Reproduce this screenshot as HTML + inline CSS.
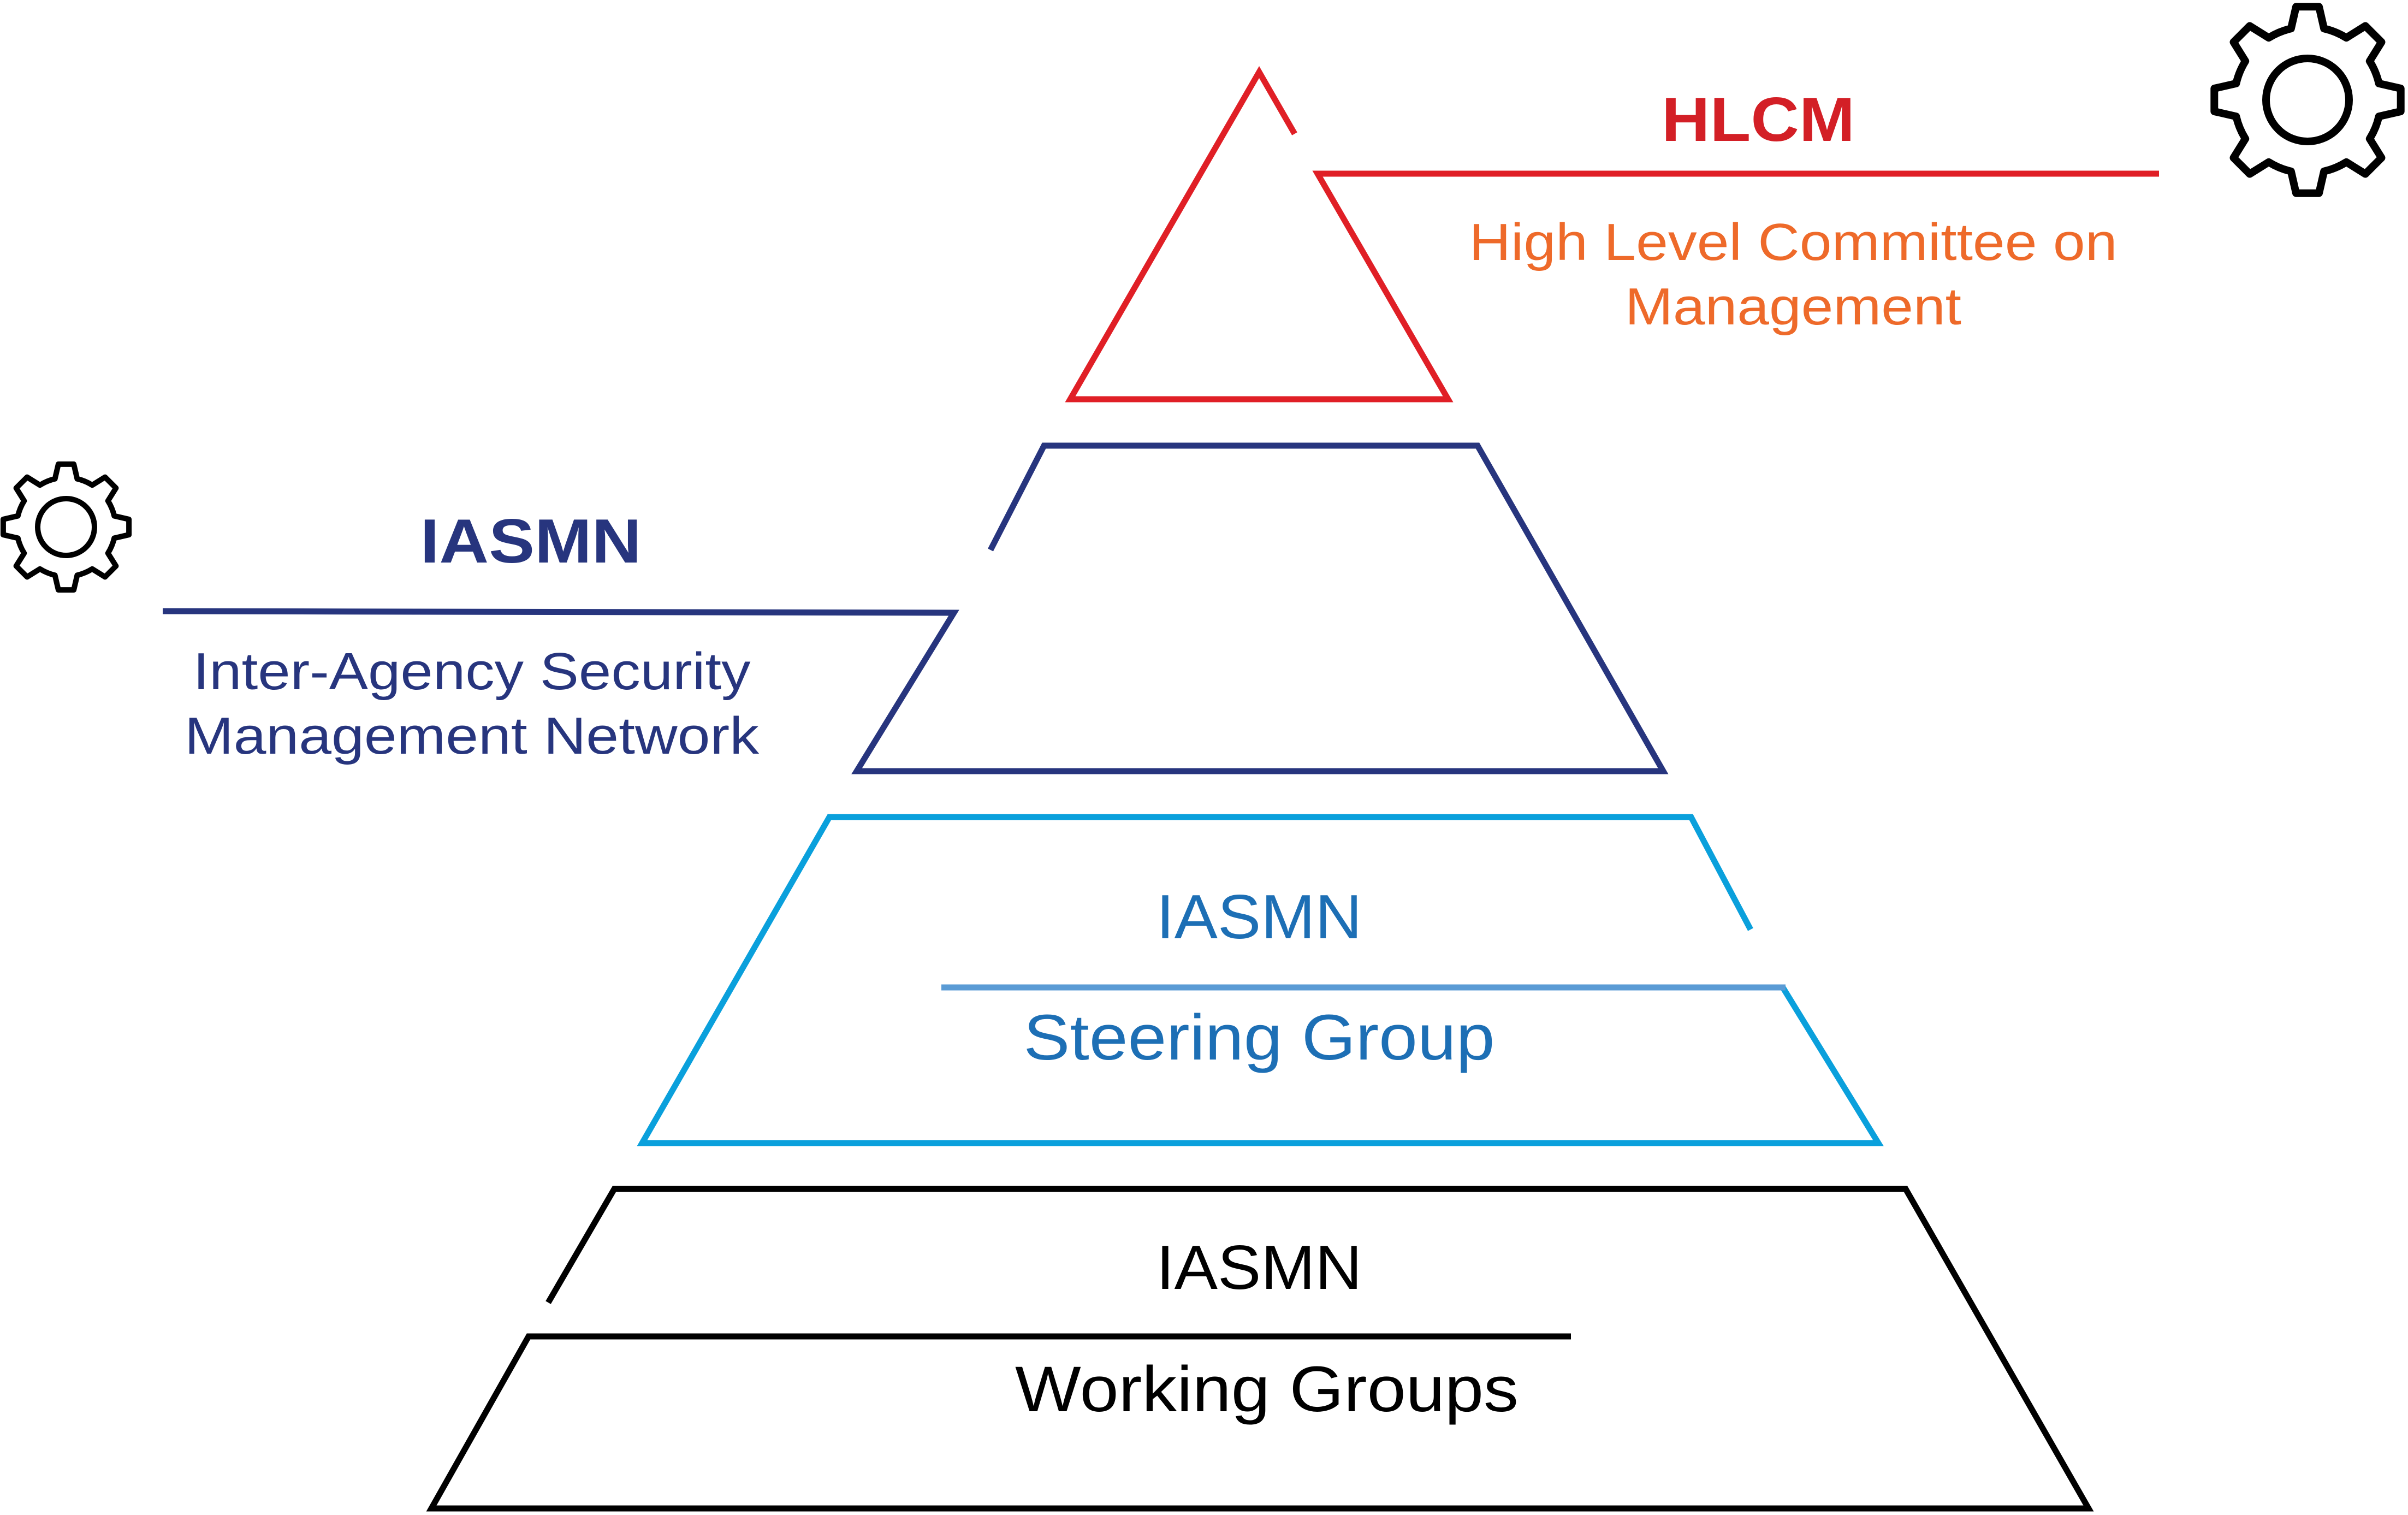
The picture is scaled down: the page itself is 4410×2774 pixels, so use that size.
<!DOCTYPE html>
<html><head><meta charset="utf-8"><style>
html,body{margin:0;padding:0;background:#fff}
svg{display:block}
text{font-family:"Liberation Sans",sans-serif;text-anchor:middle}
</style></head><body>
<svg id="s" width="4410" height="2774" viewBox="0 0 4410 2774" xmlns="http://www.w3.org/2000/svg">
<g fill="none" stroke-width="11" stroke-linejoin="miter">
<polyline stroke="#e01f26" points="2371,245 2306,132 1960,731 2652,731 2413,318 3954,318"/>
<polyline stroke="#27357e" points="1814,1007 1912,816 2706,816 3046,1412 1569,1412 1747,1122 298,1119"/>
<polyline stroke="#0aa0dc" points="3206,1702 3097,1496 1519,1496 1176,2093 3440,2093 3265,1808"/>
<line stroke="#5a9bd5" x1="1724" y1="1808" x2="3270" y2="1808"/>
<polyline stroke="#000" points="1004,2385 1125,2177 3490,2177 3825,2762 790,2762 968,2447 2877,2447"/>
</g>
<text x="3220" y="258" font-size="114" font-weight="bold" fill="#d31f26" textLength="354" lengthAdjust="spacingAndGlyphs">HLCM</text>
<text x="3284" y="476" font-size="96" fill="#ee6a2a" textLength="1187" lengthAdjust="spacingAndGlyphs">High Level Committee on</text>
<text x="3284" y="594" font-size="96" fill="#ee6a2a" textLength="616" lengthAdjust="spacingAndGlyphs">Management</text>
<text x="972" y="1030" font-size="114" font-weight="bold" fill="#27357e" textLength="405" lengthAdjust="spacingAndGlyphs">IASMN</text>
<text x="864" y="1262" font-size="96" fill="#27357e" textLength="1021" lengthAdjust="spacingAndGlyphs">Inter-Agency Security</text>
<text x="864" y="1380" font-size="96" fill="#27357e" textLength="1052" lengthAdjust="spacingAndGlyphs">Management Network</text>
<text x="2306" y="1718" font-size="114" fill="#1d6fb5" textLength="377" lengthAdjust="spacingAndGlyphs">IASMN</text>
<text x="2306" y="1940" font-size="118" fill="#1d6fb5" textLength="863" lengthAdjust="spacingAndGlyphs">Steering Group</text>
<text x="2306" y="2360" font-size="114" fill="#000" textLength="377" lengthAdjust="spacingAndGlyphs">IASMN</text>
<text x="2320" y="2584" font-size="118" fill="#000" textLength="922" lengthAdjust="spacingAndGlyphs">Working Groups</text>
<path id="g1" fill="none" stroke="#000" stroke-width="14" stroke-linejoin="round"/>
<circle cx="4226" cy="183" r="76" fill="none" stroke="#000" stroke-width="14"/>
<path id="g2" fill="none" stroke="#000" stroke-width="10" stroke-linejoin="round"/>
<circle cx="121" cy="965" r="52" fill="none" stroke="#000" stroke-width="10"/>
</svg>
<script>
function gear(cx,cy,R){
 var d="",rb=R*0.78,at=7*Math.PI/180,ab=13*Math.PI/180;
 for(var k=0;k<8;k++){
  var t=k*Math.PI/4-Math.PI/2;
  var p=[[rb,t-ab],[R,t-at],[R,t+at],[rb,t+ab]];
  for(var i=0;i<4;i++){
   var x=cx+p[i][0]*Math.cos(p[i][1]),y=cy+p[i][0]*Math.sin(p[i][1]);
   if(k==0&&i==0)d+="M"+x.toFixed(1)+","+y.toFixed(1);
   else if(i==0)d+="A"+rb+","+rb+" 0 0 1 "+x.toFixed(1)+","+y.toFixed(1);
   else d+="L"+x.toFixed(1)+","+y.toFixed(1);
  }
 }
 var t0=-Math.PI/2-ab;
 d+="A"+rb+","+rb+" 0 0 1 "+(cx+rb*Math.cos(t0)).toFixed(1)+","+(cy+rb*Math.sin(t0)).toFixed(1)+"Z";
 return d;
}
document.getElementById("g1").setAttribute("d",gear(4226,183,172));
document.getElementById("g2").setAttribute("d",gear(121,965,116));
</script>
</body></html>
